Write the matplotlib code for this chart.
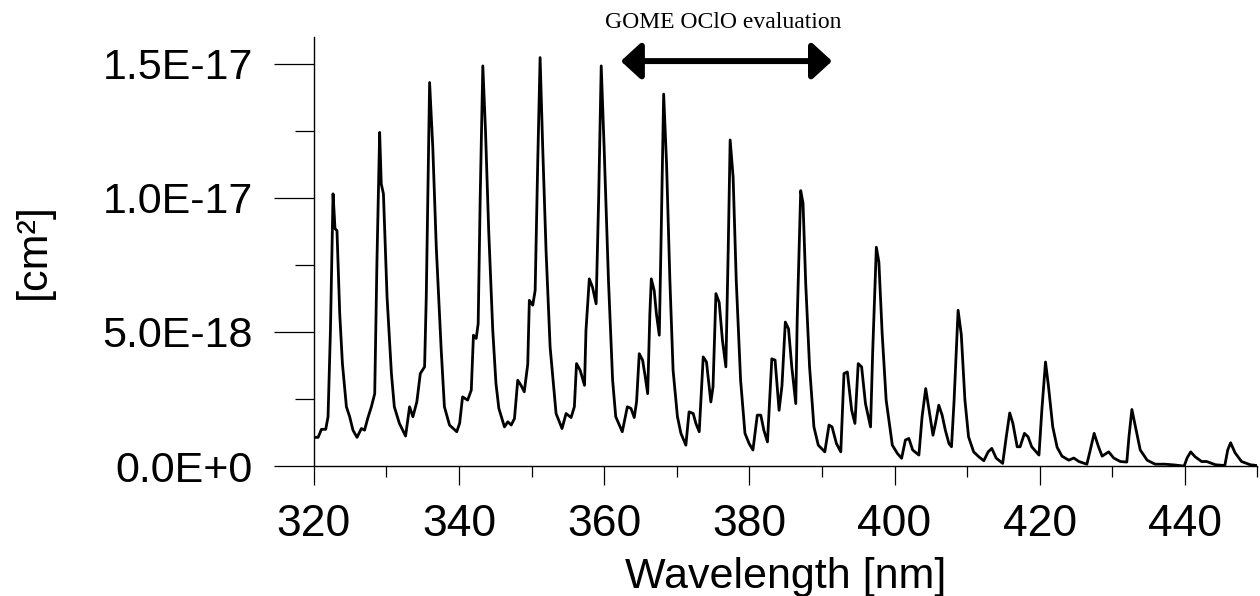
import numpy as np
import matplotlib.pyplot as plt
from matplotlib.patches import ArrowStyle

# OClO absorption cross section (values in 1E-18 cm^2)
wavelength = [
    319.9, 320.6, 321.06, 321.65, 321.97, 322.3, 322.66, 322.93, 323.2, 323.58,
    323.95, 324.5, 324.95, 325.4, 325.96, 326.56, 327.0, 327.47, 327.94, 328.4,
    328.7, 329.08, 329.3, 329.6, 330.1, 330.7, 331.1, 331.8, 332.65, 333.2,
    333.66, 334.2, 334.68, 335.27, 335.5, 335.96, 336.4, 336.88, 337.56, 338.0,
    338.7, 339.7, 340.1, 340.5, 341.2, 341.7, 342.0, 342.38, 342.65, 342.93,
    343.29, 343.66, 344.1, 344.66, 345.1, 345.5, 346.27, 346.73, 347.2, 347.65,
    348.1, 348.57, 349.0, 349.48, 349.7, 350.17, 350.5, 350.85, 351.18, 351.54,
    352.0, 352.56, 353.38, 354.2, 354.76, 355.45, 355.9, 356.2, 356.7, 357.3,
    357.5, 357.96, 358.4, 358.9, 359.25, 359.6, 360.0, 360.6, 361.17, 361.6,
    362.5, 363.2, 363.7, 364.15, 364.47, 364.84, 365.3, 365.67, 366.0, 366.3,
    366.5, 366.9, 367.2, 367.6, 367.83, 368.2, 368.6, 369.06, 369.5, 370.1,
    370.58, 371.26, 371.7, 372.27, 372.64, 373.1, 373.65, 374.1, 374.7, 375.0,
    375.4, 375.85, 376.3, 376.77, 377.1, 377.36, 377.77, 378.2, 378.8, 379.4,
    379.97, 380.5, 381.1, 381.58, 382.0, 382.5, 383.1, 383.55, 384.1, 384.5,
    384.96, 385.4, 385.85, 386.4, 386.6, 387.08, 387.4, 387.77, 388.3, 388.9,
    389.5, 390.4, 390.98, 391.4, 392.0, 392.6, 393.04, 393.5, 394.1, 394.55,
    395.0, 395.47, 396.0, 396.7, 397.0, 397.5, 397.85, 398.3, 398.85, 399.7,
    400.4, 400.98, 401.5, 401.98, 402.5, 403.36, 403.8, 404.3, 404.7, 405.3,
    405.65, 406.1, 406.56, 407.0, 407.5, 407.85, 408.2, 408.76, 409.2, 409.7,
    410.2, 410.9, 411.6, 412.3, 412.9, 413.4, 414.0, 414.9, 415.4, 415.87,
    416.3, 416.9, 417.3, 417.9, 418.4, 418.9, 419.9, 420.3, 420.8, 421.2,
    421.8, 422.4, 423.07, 424.0, 424.7, 425.4, 426.5, 426.97, 427.5, 428.1,
    428.6, 429.5, 430.2, 431.1, 432.0, 432.3, 432.7, 433.2, 433.85, 434.8,
    435.9, 437.3, 438.6, 439.9, 440.3, 440.8, 441.4, 442.3, 443.0, 444.2,
    445.5, 445.9, 446.3, 446.9, 447.8, 449.0, 449.9,
]
sigma_e18 = [
    1.07, 1.07, 1.37, 1.37, 1.84, 5.06, 10.15, 8.85, 8.78, 5.68,
    3.82, 2.21, 1.84, 1.34, 1.07, 1.40, 1.34, 1.81, 2.21, 2.70,
    7.54, 12.44, 10.52, 10.15, 6.30, 3.45, 2.21, 1.59, 1.12, 2.21,
    1.84, 2.39, 3.45, 3.70, 6.30, 14.30, 11.88, 8.16, 4.32, 2.21,
    1.53, 1.28, 1.6, 2.58, 2.46, 2.83, 4.88, 4.76, 5.31, 10.02,
    14.92, 12.5, 8.78, 5.06, 3.08, 2.15, 1.46, 1.65, 1.53, 1.77,
    3.2, 3.0, 2.77, 3.8, 6.18, 6.0, 6.55, 11.27, 15.23, 11.88,
    8.04, 4.44, 1.96, 1.40, 1.96, 1.81, 2.21, 3.82, 3.57, 3.01,
    5.06, 6.98, 6.67, 6.05, 10.02, 14.92, 11.88, 6.92, 3.2, 1.84,
    1.28, 2.21, 2.15, 1.81, 2.4, 4.19, 3.95, 3.32, 2.70, 5.68,
    6.98, 6.54, 5.68, 4.88, 8.2, 13.87, 11.27, 6.92, 3.57, 1.84,
    1.22, 0.78, 2.02, 1.96, 1.59, 1.28, 4.07, 3.88, 2.39, 2.95,
    6.43, 6.1, 4.69, 3.70, 8.16, 12.16, 10.77, 6.92, 3.2, 1.22,
    0.84, 0.60, 1.90, 1.90, 1.34, 0.90, 4.0, 3.95, 2.08, 3.0,
    5.37, 5.12, 3.7, 2.33, 5.5, 10.27, 9.8, 6.80, 3.70, 1.46,
    0.78, 0.53, 1.53, 1.46, 0.84, 0.53, 3.45, 3.51, 2.08, 1.59,
    3.82, 3.7, 2.33, 1.46, 4.3, 8.16, 7.6, 4.94, 2.46, 0.78,
    0.47, 0.29, 0.97, 1.03, 0.60, 0.41, 1.84, 2.89, 2.2, 1.15,
    1.6, 2.27, 1.9, 1.34, 0.84, 0.72, 2.4, 5.81, 4.9, 2.46,
    1.09, 0.53, 0.35, 0.20, 0.53, 0.66, 0.3, 0.10, 1.1, 1.98,
    1.6, 0.72, 0.72, 1.22, 1.09, 0.72, 0.41, 2.1, 3.88, 3.0,
    1.46, 0.7, 0.37, 0.22, 0.3, 0.17, 0.07, 0.6, 1.22, 0.72,
    0.37, 0.53, 0.3, 0.17, 0.15, 1.1, 2.11, 1.46, 0.6, 0.22,
    0.07, 0.07, 0.04, 0.0, 0.3, 0.53, 0.35, 0.17, 0.17, 0.05,
    0.02, 0.6, 0.87, 0.5, 0.17, 0.05, 0.02,
]

y_ticks = [0.0, 5e-18, 1e-17, 1.5e-17]
y_ticklabels = ['0.0E+0', '5.0E-18', '1.0E-17', '1.5E-17']
x_ticks = [320, 340, 360, 380, 400, 420, 440]

# GOME OClO evaluation window
window = (362.3, 391.4)

plt.rcParams['font.family'] = ['Liberation Sans', 'DejaVu Sans']

fig = plt.figure(figsize=(12.6, 5.96), dpi=100)
ax = fig.add_axes([0.249, 0.218, 0.749, 0.720])

sigma = np.array(sigma_e18) * 1e-18
ax.plot(wavelength, sigma, color='black', lw=2.0, solid_joinstyle='round')

ax.set_xlim(320, 450)
ax.set_ylim(0, 1.6e-17)

ax.spines['top'].set_visible(False)
ax.spines['right'].set_visible(False)
ax.spines['left'].set_linewidth(1.0)
ax.spines['bottom'].set_linewidth(1.0)

ax.set_xticks(x_ticks)
ax.set_xticklabels([str(t) for t in x_ticks])
ax.set_xticks(np.arange(330, 451, 20), minor=True)
ax.set_yticks(y_ticks)
ax.set_yticklabels(y_ticklabels)
ax.set_yticks([2.5e-18, 7.5e-18, 1.25e-17], minor=True)

ax.tick_params(axis='x', which='major', direction='out', length=14, width=0.9,
               labelsize=32, pad=13)
ax.tick_params(axis='x', which='minor', direction='out', length=8, width=0.9)
ax.tick_params(axis='y', which='major', direction='out', length=29, width=0.9,
               labelsize=31, pad=15)
ax.tick_params(axis='y', which='minor', direction='out', length=14, width=0.9)

# axis titles placed in figure pixels to match the reference
fig.text(786 / 1260, 1 - 588 / 596, 'Wavelength [nm]', fontsize=31,
         ha='center', va='baseline')
fig.text(34 / 1260, 1 - 251 / 596, '[cm²]', fontsize=31, rotation=90,
         ha='center', va='center')

ax.annotate('', xy=(window[0], 1.51e-17), xytext=(window[1], 1.51e-17),
            arrowprops=dict(arrowstyle=ArrowStyle('<|-|>', head_length=0.6, head_width=0.55),
                            mutation_scale=20, lw=4.3, color='black',
                            shrinkA=0, shrinkB=0),
            annotation_clip=False)
fig.text(723 / 1260, 1 - 28.5 / 596, 'GOME OClO evaluation',
         family='Liberation Serif', fontsize=17, ha='center', va='baseline')

fig.savefig('out.png', dpi=100)
